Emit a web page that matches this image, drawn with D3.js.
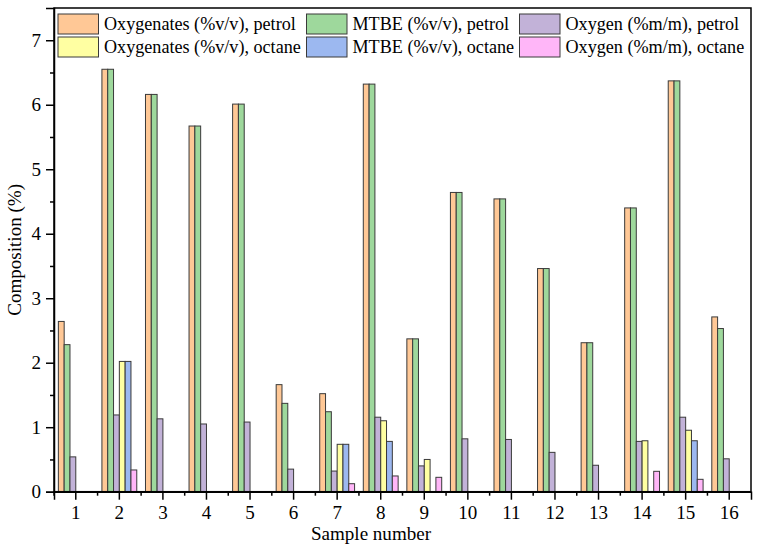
<!DOCTYPE html>
<html>
<head>
<meta charset="utf-8">
<script src="https://cdn.jsdelivr.net/npm/d3@7"></script>
<style>
  html, body { margin: 0; padding: 0; background: #fff; }
  svg text { font-family: "Liberation Serif", "DejaVu Serif", serif; }
</style>
</head>
<body>
<svg id="chart" width="757" height="547"></svg>
<script>
const samples = ["1","2","3","4","5","6","7","8","9","10","11","12","13","14","15","16"];
const seriesNames = [
  "Oxygenates (%v/v), petrol",
  "MTBE (%v/v), petrol",
  "Oxygen (%m/m), petrol",
  "Oxygenates (%v/v), octane",
  "MTBE (%v/v), octane",
  "Oxygen (%m/m), octane"
];
const oxygenatesPetrol = [2.64, 6.55, 6.16, 5.67, 6.01, 1.66, 1.52, 6.32, 2.37, 4.64, 4.54, 3.46, 2.31, 4.40, 6.37, 2.71];
const mtbePetrol       = [2.28, 6.55, 6.16, 5.67, 6.01, 1.37, 1.24, 6.32, 2.37, 4.64, 4.54, 3.46, 2.31, 4.40, 6.37, 2.53];
const oxygenPetrol     = [0.54, 1.19, 1.13, 1.05, 1.08, 0.35, 0.32, 1.155, 0.40, 0.82, 0.81, 0.61, 0.41, 0.78, 1.155, 0.51];
const oxygenatesOctane = [0, 2.02, 0, 0, 0, 0, 0.735, 1.10, 0.50, 0, 0, 0, 0, 0.79, 0.953, 0];
const mtbeOctane       = [0, 2.02, 0, 0, 0, 0, 0.735, 0.78, 0, 0, 0, 0, 0, 0, 0.79, 0];
const oxygenOctane     = [0, 0.337, 0, 0, 0, 0, 0.124, 0.244, 0.223, 0, 0, 0, 0, 0.316, 0.192, 0];
const yTicks = [0, 1, 2, 3, 4, 5, 6, 7];

const seriesValues = [oxygenatesPetrol, mtbePetrol, oxygenPetrol, oxygenatesOctane, mtbeOctane, oxygenOctane];
const colors = ["#FFC896", "#9ED89C", "#C2B2D8", "#FFFFA2", "#9CB8F0", "#FFB6F8"];

const svg = d3.select("#chart");
const L = 54, R = 751, T = 8, B = 491.7;

const probe = svg.append("text").attr("font-size", 19).text(seriesNames[0]);
const w = probe.node().getComputedTextLength();
probe.remove();
const fs = Math.min(19, 19 * 192 / w);

const x = d3.scaleBand().domain(samples).range([L, R]).paddingInner(0).paddingOuter(0);
const x1 = d3.scaleBand().domain(d3.range(6)).range([0, x.bandwidth() * 0.8]);
const y = d3.scaleLinear().domain([0, 7.5]).range([B, T]);

// bars
const g = svg.append("g");
seriesValues.forEach((vals, si) => {
  g.selectAll(null)
    .data(vals.map((v, i) => ({ v, s: samples[i] })).filter(d => d.v > 0))
    .enter().append("rect")
    .attr("x", d => x(d.s) + x.bandwidth() * 0.1 + x1(si))
    .attr("y", d => y(d.v))
    .attr("width", x1.bandwidth())
    .attr("height", d => B - y(d.v))
    .attr("fill", colors[si])
    .attr("stroke", "#3a3a3a")
    .attr("stroke-width", 1);
});

// frame
svg.append("rect").attr("x", L).attr("y", T).attr("width", R - L).attr("height", B - T)
  .attr("fill", "none").attr("stroke", "#000").attr("stroke-width", 1.5);

// y axis
const yAxis = d3.axisLeft(y).tickValues(yTicks).tickFormat(d3.format("d")).tickSize(8).tickPadding(5);
const ya = svg.append("g").attr("transform", `translate(${L},0)`).call(yAxis);
ya.attr("font-family", null);
ya.select(".domain").attr("stroke-width", 1.5);
ya.selectAll(".tick line").attr("stroke-width", 1.5);
ya.selectAll("text").attr("font-size", fs * 1.05).attr("fill", "#000");
const yMinor = d3.axisLeft(y).tickValues(d3.range(0.5, 7.5, 1)).tickFormat("").tickSize(4);
const ym = svg.append("g").attr("transform", `translate(${L},0)`).call(yMinor);
ym.select(".domain").remove();
ym.selectAll(".tick line").attr("stroke-width", 1.5);

// x axis
const xAxis = d3.axisBottom(x).tickSize(8).tickPadding(6);
const xa = svg.append("g").attr("transform", `translate(0,${B})`).call(xAxis);
xa.attr("font-family", null);
xa.select(".domain").attr("stroke-width", 1.5);
xa.selectAll(".tick line").attr("stroke-width", 1.5);
xa.selectAll("text").attr("font-size", fs * 1.05).attr("fill", "#000");
const xm = svg.append("g").attr("transform", `translate(0,${B})`);
samples.forEach(s => {
  xm.append("line").attr("x1", x(s)).attr("x2", x(s)).attr("y1", 0).attr("y2", 4)
    .attr("stroke", "#000").attr("stroke-width", 1.5);
});

// axis titles
svg.append("text").attr("x", 371).attr("y", 540).attr("text-anchor", "middle")
  .attr("font-size", fs * 1.05).text("Sample number");
svg.append("text").attr("transform", `translate(21,${(T + B) / 2}) rotate(-90)`)
  .attr("text-anchor", "middle").attr("font-size", fs * 1.05).text("Composition (%)");

// legend
const legX = [58, 306.5, 519.5], legY = [14, 37];
seriesNames.forEach((name, i) => {
  const col = i % 3, row = Math.floor(i / 3);
  const lg = svg.append("g").attr("transform", `translate(${legX[col]},${legY[row]})`);
  lg.append("rect").attr("width", 40.5).attr("height", 20).attr("fill", colors[i])
    .attr("stroke", "#3a3a3a").attr("stroke-width", 1);
  lg.append("text").attr("x", 46).attr("y", 16).attr("font-size", fs).text(name);
});
</script>
</body>
</html>
